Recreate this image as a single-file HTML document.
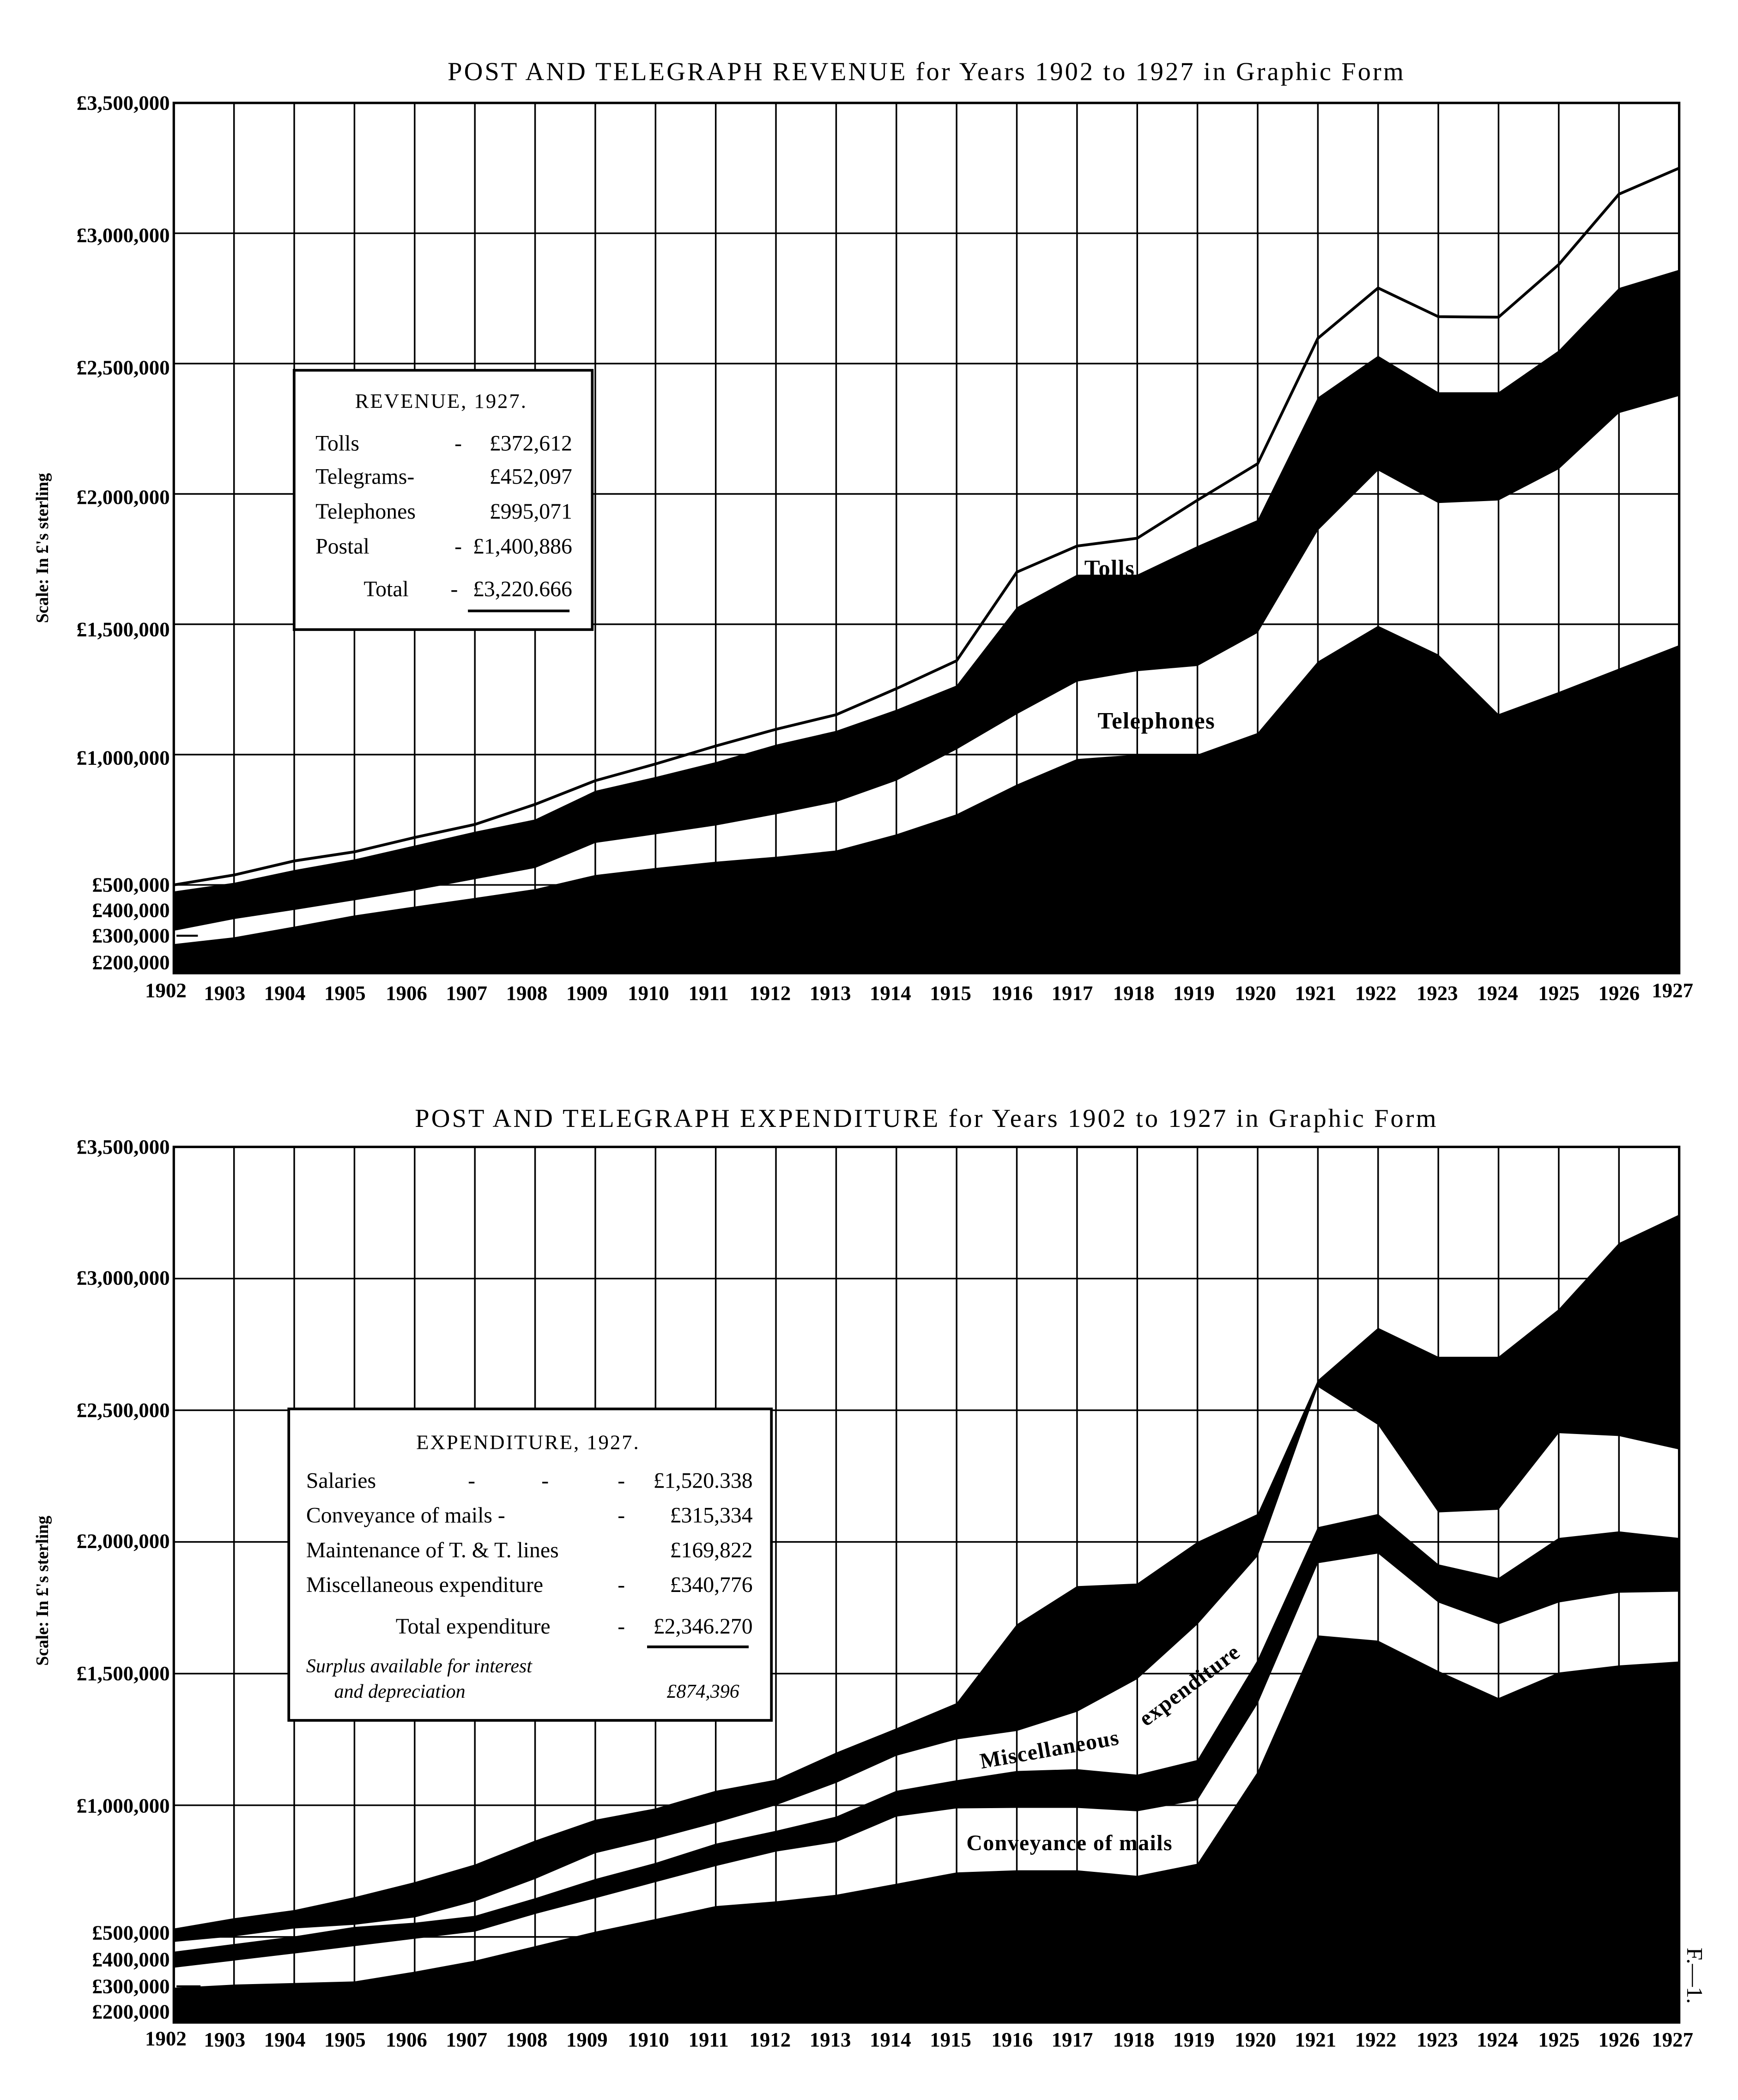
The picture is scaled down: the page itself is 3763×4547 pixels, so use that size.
<!DOCTYPE html>
<html><head><meta charset="utf-8"><style>
html,body{margin:0;padding:0;background:#fff}
svg{display:block}
text{font-family:"Liberation Serif",serif;fill:#000}
.yl{font-size:15.5px;font-weight:bold;text-anchor:end}
.xl{font-size:15.5px;font-weight:bold;text-anchor:middle}
.lg{font-size:16.5px}
</style></head><body>
<svg width="3763" height="4547" viewBox="0 0 1300 1571" preserveAspectRatio="none" xmlns="http://www.w3.org/2000/svg">
<rect width="1300" height="1571" fill="#fff"/>

<text x="693" y="60" font-size="19.5" text-anchor="middle" letter-spacing="1.4">POST AND TELEGRAPH REVENUE for Years 1902 to 1927 in Graphic Form</text>
<g stroke="#000" stroke-width="1.2">
<path d="M175.04 77V728M220.08 77V728M265.12 77V728M310.16 77V728M355.2 77V728M400.24 77V728M445.28 77V728M490.32 77V728M535.36 77V728M580.4 77V728M625.44 77V728M670.48 77V728M715.52 77V728M760.56 77V728M805.6 77V728M850.64 77V728M895.68 77V728M940.72 77V728M985.76 77V728M1030.8 77V728M1075.84 77V728M1120.88 77V728M1165.92 77V728M1210.96 77V728"/>
<path d="M130 174.5H1256M130 272H1256M130 369.5H1256M130 467H1256M130 564.5H1256M130 662H1256"/>
</g>
<g transform="matrix(45.04 0 0 -195 130 759.5)">
<polygon fill="#000" points="0,0.162 0,0.273 1,0.299 2,0.340 3,0.383 4,0.417 5,0.450 6,0.484 7,0.538 8,0.565 9,0.589 10,0.608 11,0.632 12,0.694 13,0.771 14,0.885 15,0.983 16,1.0 17,1.0 18,1.083 19,1.357 20,1.494 21,1.384 22,1.155 23,1.24 24,1.33 25,1.42 25,0.162"/>
<polygon fill="#000" points="0,0.324 1,0.369 2,0.404 3,0.441 4,0.479 5,0.522 6,0.565 7,0.661 8,0.694 9,0.728 10,0.771 11,0.818 12,0.900 13,1.02 14,1.155 15,1.28 16,1.32 17,1.34 18,1.467 19,1.86 20,2.09 21,1.965 22,1.975 23,2.095 24,2.31 25,2.376 25,2.86 24,2.79 23,2.55 22,2.39 21,2.39 20,2.53 19,2.37 18,1.90 17,1.80 16,1.69 15,1.69 14,1.565 13,1.265 12,1.172 11,1.091 10,1.038 9,0.971 8,0.914 7,0.861 6,0.751 5,0.704 4,0.651 3,0.598 2,0.557 1,0.508 0,0.475"/>
<polyline fill="none" stroke="#000" stroke-width="6" vector-effect="non-scaling-stroke" points="0,0.50 1,0.538 2,0.592 3,0.627 4,0.682 5,0.732 6,0.809 7,0.900 8,0.964 9,1.033 10,1.097 11,1.153 12,1.253 13,1.36 14,1.70 15,1.80 16,1.83 17,1.976 18,2.116 19,2.597 20,2.79 21,2.68 22,2.678 23,2.88 24,3.15 25,3.25"/>
</g>
<rect x="130" y="77" width="1126" height="651" fill="none" stroke="#000" stroke-width="1.8"/>
<line x1="132" y1="700" x2="148" y2="700" stroke="#000" stroke-width="1.5"/>

<g class="yl">
<text x="127" y="82">£3,500,000</text>
<text x="127" y="181">£3,000,000</text>
<text x="127" y="280">£2,500,000</text>
<text x="127" y="377">£2,000,000</text>
<text x="127" y="476">£1,500,000</text>
<text x="127" y="572">£1,000,000</text>
<text x="127" y="667">£500,000</text>
<text x="127" y="686">£400,000</text>
<text x="127" y="705">£300,000</text>
<text x="127" y="725">£200,000</text>
</g>
<text transform="translate(36,410) rotate(-90)" font-size="13" text-anchor="middle" font-weight="bold">Scale: In £'s sterling</text>
<g class="xl">
<text x="124" y="746">1902</text><text x="168" y="748">1903</text><text x="213" y="748">1904</text><text x="258" y="748">1905</text><text x="304" y="748">1906</text><text x="349" y="748">1907</text><text x="394" y="748">1908</text><text x="439" y="748">1909</text><text x="485" y="748">1910</text><text x="530" y="748">1911</text><text x="576" y="748">1912</text><text x="621" y="748">1913</text><text x="666" y="748">1914</text><text x="711" y="748">1915</text><text x="757" y="748">1916</text><text x="802" y="748">1917</text><text x="848" y="748">1918</text><text x="893" y="748">1919</text><text x="939" y="748">1920</text><text x="984" y="748">1921</text><text x="1029" y="748">1922</text><text x="1075" y="748">1923</text><text x="1120" y="748">1924</text><text x="1166" y="748">1925</text><text x="1211" y="748">1926</text><text x="1251" y="746">1927</text>
</g>
<text x="830" y="431" font-size="17.5" font-weight="bold" text-anchor="middle" letter-spacing="0.5">Tolls</text>
<text x="865" y="545" font-size="17.5" font-weight="bold" text-anchor="middle" letter-spacing="0.5">Telephones</text>

<rect x="220" y="277" width="223" height="194" fill="#fff" stroke="#000" stroke-width="2"/>
<g class="lg">
<text x="330" y="305" text-anchor="middle" font-size="15.5" letter-spacing="1">REVENUE, 1927.</text>
<text x="236" y="337">Tolls</text><text x="340" y="337">-</text><text x="428" y="337" text-anchor="end">£372,612</text>
<text x="236" y="362">Telegrams-</text><text x="428" y="362" text-anchor="end">£452,097</text>
<text x="236" y="388">Telephones</text><text x="428" y="388" text-anchor="end">£995,071</text>
<text x="236" y="414">Postal</text><text x="340" y="414">-</text><text x="428" y="414" text-anchor="end">£1,400,886</text>
<text x="272" y="446">Total</text><text x="337" y="446">-</text><text x="428" y="446" text-anchor="end">£3,220.666</text>
</g>
<line x1="350" y1="457" x2="426" y2="457" stroke="#000" stroke-width="2"/>

<text x="693" y="843" font-size="19.5" text-anchor="middle" letter-spacing="1.4">POST AND TELEGRAPH EXPENDITURE for Years 1902 to 1927 in Graphic Form</text>
<g stroke="#000" stroke-width="1.2">
<path d="M175.04 858V1513M220.08 858V1513M265.12 858V1513M310.16 858V1513M355.2 858V1513M400.24 858V1513M445.28 858V1513M490.32 858V1513M535.36 858V1513M580.4 858V1513M625.44 858V1513M670.48 858V1513M715.52 858V1513M760.56 858V1513M805.6 858V1513M850.64 858V1513M895.68 858V1513M940.72 858V1513M985.76 858V1513M1030.8 858V1513M1075.84 858V1513M1120.88 858V1513M1165.92 858V1513M1210.96 858V1513"/>
<path d="M130 956.5H1256M130 1055H1256M130 1153.5H1256M130 1252H1256M130 1350.5H1256M130 1449H1256"/>
</g>
<g transform="matrix(45.04 0 0 -197 130 1547.5)">
<polygon fill="#000" points="0,0.175 0,0.307 1,0.319 2,0.325 3,0.331 4,0.368 5,0.410 6,0.465 7,0.520 8,0.568 9,0.617 10,0.635 11,0.660 12,0.702 13,0.745 14,0.753 15,0.753 16,0.732 17,0.778 18,1.127 19,1.645 20,1.625 21,1.510 22,1.407 23,1.504 24,1.531 25,1.546 25,0.175"/>
<polygon fill="#000" points="0,0.383 1,0.410 2,0.437 3,0.465 4,0.493 5,0.520 6,0.587 7,0.647 8,0.708 9,0.769 10,0.824 11,0.860 12,0.957 13,0.988 14,0.99 15,0.99 16,0.977 17,1.019 18,1.386 19,1.919 20,1.956 21,1.77 22,1.687 23,1.77 24,1.807 25,1.811 25,2.015 24,2.04 23,2.015 22,1.863 21,1.915 20,2.106 19,2.056 18,1.552 17,1.172 16,1.116 15,1.137 14,1.13 13,1.095 12,1.055 11,0.957 10,0.903 9,0.854 8,0.781 7,0.720 6,0.647 5,0.580 4,0.554 3,0.538 2,0.502 1,0.473 0,0.444"/>
<polygon fill="#000" points="0,0.481 1,0.502 2,0.532 3,0.546 4,0.574 5,0.635 6,0.720 7,0.818 8,0.872 9,0.933 10,1.0 11,1.085 12,1.188 13,1.25 14,1.282 15,1.355 16,1.479 17,1.687 18,1.946 19,2.589 20,2.444 21,2.112 22,2.122 23,2.413 24,2.402 25,2.351 25,3.243 24,3.135 23,2.884 22,2.703 21,2.703 20,2.813 19,2.614 18,2.106 17,2.0 16,1.842 15,1.832 14,1.687 13,1.388 12,1.292 11,1.2 10,1.097 9,1.055 8,0.988 7,0.945 6,0.866 5,0.775 4,0.708 3,0.651 2,0.602 1,0.571 0,0.532"/>
</g>
<rect x="130" y="858" width="1126" height="655" fill="none" stroke="#000" stroke-width="1.8"/>
<line x1="132" y1="1486" x2="150" y2="1486" stroke="#000" stroke-width="1.5"/>

<g class="yl">
<text x="127" y="863">£3,500,000</text>
<text x="127" y="961">£3,000,000</text>
<text x="127" y="1060">£2,500,000</text>
<text x="127" y="1158">£2,000,000</text>
<text x="127" y="1257">£1,500,000</text>
<text x="127" y="1356">£1,000,000</text>
<text x="127" y="1451">£500,000</text>
<text x="127" y="1471">£400,000</text>
<text x="127" y="1491">£300,000</text>
<text x="127" y="1510">£200,000</text>
</g>
<text transform="translate(36,1190) rotate(-90)" font-size="13" text-anchor="middle" font-weight="bold">Scale: In £'s sterling</text>
<g class="xl">
<text x="124" y="1530">1902</text><text x="168" y="1531">1903</text><text x="213" y="1531">1904</text><text x="258" y="1531">1905</text><text x="304" y="1531">1906</text><text x="349" y="1531">1907</text><text x="394" y="1531">1908</text><text x="439" y="1531">1909</text><text x="485" y="1531">1910</text><text x="530" y="1531">1911</text><text x="576" y="1531">1912</text><text x="621" y="1531">1913</text><text x="666" y="1531">1914</text><text x="711" y="1531">1915</text><text x="757" y="1531">1916</text><text x="802" y="1531">1917</text><text x="848" y="1531">1918</text><text x="893" y="1531">1919</text><text x="939" y="1531">1920</text><text x="984" y="1531">1921</text><text x="1029" y="1531">1922</text><text x="1075" y="1531">1923</text><text x="1120" y="1531">1924</text><text x="1166" y="1531">1925</text><text x="1211" y="1531">1926</text><text x="1251" y="1531">1927</text>
</g>
<text transform="translate(786,1314) rotate(-10)" font-size="16.5" font-weight="bold" text-anchor="middle" letter-spacing="0.5">Miscellaneous</text>
<text transform="translate(893,1265) rotate(-37)" font-size="16.5" font-weight="bold" text-anchor="middle" letter-spacing="0.5">expenditure</text>
<text x="800" y="1384" font-size="16.5" font-weight="bold" text-anchor="middle" letter-spacing="0.5">Conveyance of mails</text>
<text transform="translate(1262,1478) rotate(90)" font-size="17" text-anchor="middle">F.—1.</text>

<rect x="216" y="1054" width="361" height="233" fill="#fff" stroke="#000" stroke-width="2"/>
<g class="lg">
<text x="395" y="1084" text-anchor="middle" font-size="15.5" letter-spacing="1">EXPENDITURE, 1927.</text>
<text x="229" y="1113">Salaries</text><text x="350" y="1113">-</text><text x="405" y="1113">-</text><text x="462" y="1113">-</text><text x="563" y="1113" text-anchor="end">£1,520.338</text>
<text x="229" y="1139">Conveyance of mails -</text><text x="462" y="1139">-</text><text x="563" y="1139" text-anchor="end">£315,334</text>
<text x="229" y="1165">Maintenance of T. &amp; T. lines</text><text x="563" y="1165" text-anchor="end">£169,822</text>
<text x="229" y="1191">Miscellaneous expenditure</text><text x="462" y="1191">-</text><text x="563" y="1191" text-anchor="end">£340,776</text>
<text x="296" y="1222">Total expenditure</text><text x="462" y="1222">-</text><text x="563" y="1222" text-anchor="end">£2,346.270</text>
<text x="229" y="1251" font-style="italic" font-size="14.5">Surplus available for interest</text>
<text x="250" y="1270" font-style="italic" font-size="14.5">and depreciation</text>
<text x="553" y="1270" font-style="italic" font-size="14.5" text-anchor="end">£874,396</text>
</g>
<line x1="484" y1="1232" x2="560" y2="1232" stroke="#000" stroke-width="2"/>
</svg>
</body></html>
